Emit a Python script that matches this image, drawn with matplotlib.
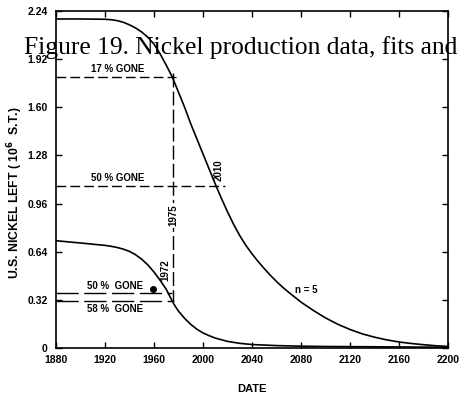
import matplotlib
matplotlib.use('Agg')
import matplotlib.pyplot as plt

plt.rcParams['font.family'] = ['Liberation Sans', 'DejaVu Sans']
plt.rcParams['font.weight'] = 'bold'
plt.rcParams['axes.labelweight'] = 'bold'
plt.rcParams['figure.dpi'] = 100

# nickel left, 10^6 short tons (upper curve: n = 5 fit)
years_fit = [1880, 1900, 1920, 1925, 1930, 1935, 1940, 1945, 1950, 1955,
             1960, 1965, 1970, 1975, 1980, 1985, 1990, 2000, 2010, 2015,
             2020, 2025, 2030, 2035, 2040, 2045, 2050, 2055, 2060, 2065,
             2070, 2080, 2090, 2100, 2110, 2120, 2130, 2140, 2150, 2160,
             2170, 2180, 2190, 2200]
left_fit = [2.187, 2.187, 2.185, 2.182, 2.176, 2.165, 2.148, 2.127, 2.10, 2.065,
            2.02, 1.955, 1.88, 1.80, 1.70, 1.60, 1.49, 1.29, 1.09, 0.995,
            0.905, 0.822, 0.747, 0.682, 0.626, 0.575, 0.528, 0.483, 0.442, 0.404,
            0.37, 0.305, 0.25, 0.20, 0.158, 0.123, 0.094, 0.072, 0.054, 0.04,
            0.03, 0.022, 0.015, 0.01]

# lower curve
years_low = [1880, 1900, 1920, 1925, 1930, 1935, 1940, 1945, 1950, 1955,
             1960, 1965, 1970, 1972.5, 1975, 1977.5, 1980, 1985, 1990, 1995,
             2000, 2005, 2010, 2020, 2030, 2040, 2060, 2080, 2100, 2140,
             2200]
left_low = [0.713, 0.698, 0.682, 0.676, 0.668, 0.657, 0.642, 0.62, 0.59, 0.552,
            0.505, 0.45, 0.39, 0.35, 0.31, 0.275, 0.245, 0.197, 0.157, 0.125,
            0.10, 0.082, 0.066, 0.044, 0.031, 0.023, 0.016, 0.012, 0.01, 0.008,
            0.005]

x_ticks = [1880, 1920, 1960, 2000, 2040, 2080, 2120, 2160, 2200]
y_ticks = [0, 0.32, 0.64, 0.96, 1.28, 1.60, 1.92, 2.24]
y_tick_labels = ['0', '0.32', '0.64', '0.96', '1.28', '1.60', '1.92', '2.24']

gone17 = 1.80
gone50_fit = 1.08
gone50_low = 0.366
gone58_low = 0.31
dot_year, dot_val = 1959, 0.39

fig = plt.figure(figsize=(4.61, 3.96))
ax = fig.add_axes([56 / 461, 1 - 348 / 396, 392 / 461, 337 / 396])

ax.plot(years_fit, left_fit, c='k', lw=1.2)
ax.plot(years_low, left_low, c='k', lw=1.2)

# percent-gone guide lines
ax.plot([1880, 1978], [gone17, gone17], c='k', lw=1, dashes=(7, 3))
ax.plot([1880, 2018], [gone50_fit, gone50_fit], c='k', lw=1, dashes=(7, 3))
ax.plot([1975.5, 1975.5], [1.83, gone58_low], c='k', lw=1, dashes=(10, 3))
ax.plot([1880, 1975], [gone50_low, gone50_low], c='k', lw=1, dashes=(16, 4))
ax.plot([1880, 1976], [gone58_low, gone58_low], c='k', lw=1, dashes=(16, 4))
ax.plot(dot_year, dot_val, 'o', c='k', ms=4)

fs = 7
ax.text(1930, gone17 + 0.02, '17 % GONE', ha='center', va='bottom', fontsize=fs)
ax.text(1930, gone50_fit + 0.02, '50 % GONE', ha='center', va='bottom', fontsize=fs)
ax.text(1928, gone50_low + 0.015, '50 %  GONE', ha='center', va='bottom', fontsize=fs)
ax.text(1928, gone58_low - 0.02, '58 %  GONE', ha='center', va='top', fontsize=fs)
ax.text(1975.5, 0.88, '1975', rotation=90, ha='center', va='center', fontsize=fs,
        bbox=dict(fc='white', ec='none', pad=1.5))
ax.text(1969.5, 0.52, '1972', rotation=90, ha='center', va='center', fontsize=fs)
ax.text(2012.5, 1.18, '2010', rotation=90, ha='center', va='center', fontsize=fs)
ax.text(2075, 0.385, 'n = 5', ha='left', va='center', fontsize=fs)

ax.set_xlim(1880, 2200)
ax.set_ylim(0, 2.24)
ax.set_xticks(x_ticks)
ax.set_yticks(y_ticks)
ax.set_yticklabels(y_tick_labels)
ax.tick_params(direction='in', length=4, width=1, labelsize=7.5, top=True, right=True,
               labeltop=False, labelright=False)
ax.tick_params(axis='x', pad=5)
ax.tick_params(axis='y', pad=6)
for s in ax.spines.values():
    s.set_linewidth(1.2)

ax.set_xlabel('DATE', fontsize=8, labelpad=14)
ax.set_ylabel('U.S. NICKEL LEFT ( 10$^{\\mathbf{6}}$  S.T.)', fontsize=8.8)
ax.yaxis.set_label_coords(-0.079, 0.46)

fig.text(24 / 461, 1 - 54 / 396, 'Figure 19. Nickel production data, fits and',
         family='Liberation Serif', fontweight='normal', fontsize=18.4, ha='left',
         va='baseline')

fig.savefig('out.png', dpi=100)
